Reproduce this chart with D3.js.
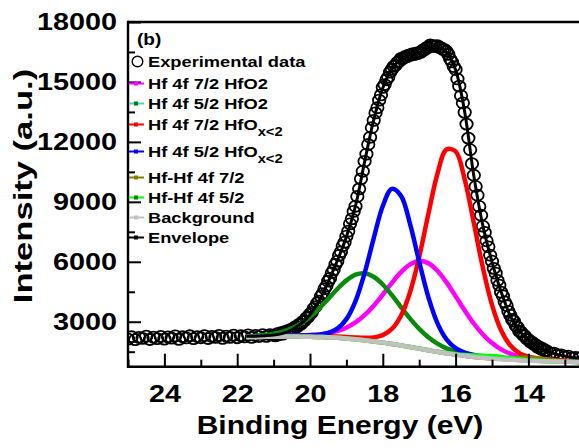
<!DOCTYPE html>
<html>
<head>
<meta charset="utf-8">
<script src="https://cdn.jsdelivr.net/npm/d3@7"></script>
<style>
  html, body { margin: 0; padding: 0; background: #fff; }
  svg { display: block; }
  text { font-family: "Liberation Sans", Arial, sans-serif; font-weight: bold; fill: #000; }
</style>
</head>
<body>
<div id="chart"></div>
<script>
// ======= DATA =======

// experimental points, in three evenly spaced runs (binding energy in eV, going down)
const expLeftStart = 25.0, expLeftStep = 0.1;
const expLeft = [
  2130, 2250, 2100, 2220, 2170, 2280, 2110, 2230, 2150, 2270,
  2130, 2240, 2180, 2290, 2120, 2250, 2190, 2300, 2150, 2260,
  2200, 2310, 2160, 2270, 2220, 2320, 2170, 2280, 2220, 2330,
  2200, 2300, 2240, 2340, 2220, 2320, 2260, 2360, 2270, 2350
];
const expPeakStart = 21.0, expPeakStep = 0.05;
const expPeak = [
  2330, 2290, 2400, 2350, 2450, 2380, 2500, 2450, 2570, 2530,
  2640, 2620, 2760, 2750, 2870, 2880, 3010, 3050, 3200, 3240,
  3380, 3470, 3660, 3750, 3940, 4030, 4270, 4410, 4650, 4790,
  5030, 5180, 5450, 5600, 5870, 6030, 6320, 6500, 6800, 6980,
  7280, 7530, 7900, 8150, 8520, 8780, 9270, 9650, 10150, 10530,
  11030, 11390, 11870, 12230, 12710, 13080, 13450, 13710, 14090, 14350,
  14730, 14870, 15110, 15240, 15490, 15630, 15780, 15830, 15980, 16030,
  16180, 16170, 16260, 16250, 16340, 16330, 16400, 16370, 16440, 16410,
  16480, 16490, 16600, 16610, 16720, 16730, 16850, 16800, 16820, 16770,
  16820, 16730, 16720, 16630, 16620, 16530, 16380, 16150, 16000, 15770,
  15620, 15150, 14790, 14310, 13950, 13480, 12890, 12190, 11610, 10910,
  10330, 9770, 9330, 8770, 8330, 7780, 7470, 7050, 6750, 6330,
  6030, 5670, 5430, 5070, 4830, 4480, 4290, 3990, 3810, 3520,
  3330, 3120, 3030, 2820, 2730, 2530, 2480, 2340, 2300, 2150,
  2110, 1990, 1980, 1860, 1850, 1730, 1740, 1630, 1650, 1540,
  1550
];
const expRightStart = 13.4, expRightStep = 0.1;
const expRight = [1440, 1430, 1340, 1340, 1250, 1280, 1200, 1220, 1170];

// fitted curves share one grid: 21.75 eV down to 12.5 eV, 0.25 eV apart
const fitStart = 21.75, fitStep = 0.25;
const background = [
  2235, 2240, 2245, 2250, 2255, 2260, 2255, 2250, 2235, 2220,
  2195, 2160, 2120, 2070, 2015, 1955, 1890, 1815, 1735, 1655,
  1575, 1495, 1420, 1355, 1295, 1240, 1195, 1155, 1120, 1095,
  1070, 1050, 1035, 1020, 1008, 998, 990, 983
];
// components: counts above the background
const hfo2_72 = [
  25, 27, 30, 34, 40, 49, 63, 88, 133, 210,
  339, 543, 845, 1258, 1787, 2403, 3056, 3666, 4138, 4387,
  4358, 4059, 3551, 2926, 2275, 1672, 1166, 775, 496, 308,
  191, 122, 82, 60, 46, 38, 33, 29
];
const hfo2_52 = [
  44, 61, 93, 151, 249, 409, 651, 988, 1420, 1922,
  2442, 2909, 3236, 3355, 3236, 2909, 2442, 1922, 1420, 988,
  651, 409, 249, 151, 93, 61, 44, 35, 28, 24,
  21, 19, 17, 15, 14, 12, 11, 10
];
const hfox_72 = [
  20, 22, 25, 27, 30, 34, 38, 42, 48, 55,
  64, 76, 93, 128, 202, 373, 749, 1488, 2754, 4590,
  6804, 8899, 10198, 10169, 8827, 6712, 4507, 2692, 1451, 729,
  363, 197, 126, 93, 75, 64, 55, 48
];
const hfox_52 = [
  25, 28, 32, 37, 43, 51, 62, 80, 120, 219,
  457, 971, 1915, 3365, 5159, 6837, 7759, 7485, 6153, 4350,
  2668, 1438, 701, 328, 166, 98, 66, 56, 47, 40,
  35, 30, 26, 23, 21, 19, 17, 15
];
const hfhf_72 = [
  0, 0, 0, 0, 0, 0, 0, 0, 0, 0,
  0, 0, 0, 0, 0, 0, 0, 0, 0, 0,
  0, 0, 0, 0, 0, 0, 2, 10, 31, 71,
  120, 149, 136, 91, 45, 16, 4, 1
];
const hfhf_52 = [
  0, 0, 0, 0, 0, 0, 0, 0, 0, 0,
  0, 0, 0, 0, 0, 0, 0, 0, 0, 0,
  0, 0, 4, 14, 36, 71, 109, 129, 120, 87,
  49, 21, 7, 2, 0, 0, 0, 0
];
// envelope: total fitted intensity
const envelope = [
  2270, 2280, 2300, 2330, 2420, 2600, 2900, 3350, 4050, 5000,
  6050, 7250, 8800, 11000, 13100, 14700, 15650, 16150, 16350, 16450,
  16700, 16750, 16500, 15600, 13500, 10300, 7800, 6000, 4500, 3300,
  2550, 2080, 1750, 1520, 1380, 1280, 1210, 1160
];

const yTicks = [3000, 6000, 9000, 12000, 15000, 18000];
const yMinorTicks = [1500, 4500, 7500, 10500, 13500, 16500];
const xTicks = [24, 22, 20, 18, 16, 14];
const xMinorTicks = [25, 23, 21, 19, 17, 15, 13];

const legendNames = [
  ["Experimental data", ""],
  ["Hf 4f 7/2 HfO2", ""],
  ["Hf 4f 5/2 HfO2", ""],
  ["Hf 4f 7/2 HfO", "x<2"],
  ["Hf 4f 5/2 HfO", "x<2"],
  ["Hf-Hf 4f 7/2", ""],
  ["Hf-Hf 4f 5/2", ""],
  ["Background", ""],
  ["Envelope", ""]
];

// ======= STYLE / LAYOUT =======

const width = 579, height = 448;
const plotLeft = 128, plotTop = 22, plotBottom = 366.7, plotRight = 579;

// line colour and marker colour for each legend row (row 0 is the open circle)
const legendLine = [null, "#ff00ff", "#3fd6c8", "#ff0000", "#0000ff", "#808000", "#00ff00", "#c0c0c0", "#000000"];
const legendMark = [null, "#ff00ff", "#008000", "#ff0000", "#0000ff", "#808000", "#008000", "#c0c0c0", "#000000"];
const legendRowY = [67, 89, 109, 130, 157, 183, 203, 223, 243];

const x = d3.scaleLinear().domain([25, 12.61]).range([plotLeft, plotRight]);
const y = d3.scaleLinear().domain([750, 18000]).range([plotBottom, plotTop]);

const svg = d3.select("#chart")
  .append("svg")
  .attr("width", width)
  .attr("height", height);

svg.append("defs").append("clipPath")
  .attr("id", "plot-clip")
  .append("rect")
  .attr("x", plotLeft).attr("y", plotTop)
  .attr("width", plotRight - plotLeft).attr("height", plotBottom - plotTop);

const plot = svg.append("g").attr("clip-path", "url(#plot-clip)");

const grid = (start, step, n) => d3.range(n).map(i => +(start - i * step).toFixed(2));

// ------- experimental points -------
const expPoints = [].concat(
  grid(expLeftStart, expLeftStep, expLeft.length).map((e, i) => [e, expLeft[i]]),
  grid(expPeakStart, expPeakStep, expPeak.length).map((e, i) => [e, expPeak[i]]),
  grid(expRightStart, expRightStep, expRight.length).map((e, i) => [e, expRight[i]])
);

plot.append("g")
  .selectAll("ellipse")
  .data(expPoints)
  .join("ellipse")
  .attr("cx", d => x(d[0]))
  .attr("cy", d => y(d[1]))
  .attr("rx", 6.2)
  .attr("ry", 5.5)
  .attr("fill", "none")
  .attr("stroke", "#000")
  .attr("stroke-width", 1.8);

// ------- fitted curves -------
const fitE = grid(fitStart, fitStep, background.length);
const line = d3.line()
  .x(d => x(d[0]))
  .y(d => y(d[1]))
  .curve(d3.curveCatmullRom);

const components = [
  { values: hfo2_72, color: "#ff00ff" },
  { values: hfo2_52, color: "#0a8a0a" },
  { values: hfox_72, color: "#ff0000" },
  { values: hfox_52, color: "#0000ff" },
  { values: hfhf_72, color: "#808000" },
  { values: hfhf_52, color: "#00ff00" }
];

components.forEach(c => {
  plot.append("path")
    .datum(fitE.map((e, i) => [e, background[i] + c.values[i]]))
    .attr("d", line)
    .attr("fill", "none")
    .attr("stroke", c.color)
    .attr("stroke-width", 4.5)
    .attr("stroke-linejoin", "round");
});

plot.append("path")
  .datum(fitE.map((e, i) => [e, background[i]]))
  .attr("d", line)
  .attr("fill", "none")
  .attr("stroke", "#c0c0c0")
  .attr("stroke-width", 4.5);

plot.append("path")
  .datum(fitE.map((e, i) => [e, envelope[i]]))
  .attr("d", line)
  .attr("fill", "none")
  .attr("stroke", "#000")
  .attr("stroke-width", 3);

// ------- axes -------
function stretch(sel, sx) {
  sel.each(function () {
    const t = d3.select(this);
    const tx = +t.attr("x") || 0;
    t.attr("x", tx / sx).attr("transform", `scale(${sx},1)`);
  });
}

function styleAxis(g) {
  g.select(".domain").remove();
  g.selectAll("line").attr("stroke", "#000").attr("stroke-width", 2);
  g.attr("font-size", null).attr("font-family", null);
}

const yMinor = svg.append("g")
  .attr("transform", `translate(${plotLeft},0)`)
  .call(d3.axisLeft(y).tickValues(yMinorTicks).tickSize(-7).tickFormat(""));
styleAxis(yMinor);

const yAxis = svg.append("g")
  .attr("transform", `translate(${plotLeft},0)`)
  .call(d3.axisLeft(y).tickValues(yTicks).tickSize(-13).tickPadding(11).tickFormat(d3.format("d")));
styleAxis(yAxis);
yAxis.selectAll("text").style("font-size", "24px");
stretch(yAxis.selectAll("text"), 1.2);

const xMinor = svg.append("g")
  .attr("transform", `translate(0,${plotBottom})`)
  .call(d3.axisBottom(x).tickValues(xMinorTicks).tickSize(-7).tickFormat(""));
styleAxis(xMinor);

const xAxis = svg.append("g")
  .attr("transform", `translate(0,${plotBottom})`)
  .call(d3.axisBottom(x).tickValues(xTicks).tickSize(-13).tickPadding(18).tickFormat(d3.format("d")));
styleAxis(xAxis);
xAxis.selectAll("text").style("font-size", "24px");
stretch(xAxis.selectAll("text"), 1.2);

// frame: left, bottom, top
const frame = svg.append("g").attr("stroke", "#000").attr("stroke-width", 2.4);
frame.append("line").attr("x1", plotLeft).attr("x2", plotLeft).attr("y1", plotTop - 1.2).attr("y2", plotBottom + 1.2);
frame.append("line").attr("x1", plotLeft).attr("x2", plotRight).attr("y1", plotBottom).attr("y2", plotBottom);
frame.append("line").attr("x1", plotLeft).attr("x2", plotRight).attr("y1", plotTop).attr("y2", plotTop);

// ------- titles -------
svg.append("text")
  .attr("transform", "translate(340,434) scale(1.2,1)")
  .attr("text-anchor", "middle")
  .style("font-size", "25px")
  .text("Binding Energy (eV)");

svg.append("text")
  .attr("transform", "translate(32,186) rotate(-90) scale(1.33,1)")
  .attr("text-anchor", "middle")
  .style("font-size", "26px")
  .text("Intensity (a.u.)");

svg.append("text")
  .attr("transform", "translate(137,45) scale(1.12,1)")
  .style("font-size", "17px")
  .text("(b)");

// ------- legend -------
const legend = svg.append("g");
legendNames.forEach((row, i) => {
  const by = legendRowY[i];
  const cy = by - 5.5;
  if (i === 0) {
    legend.append("circle")
      .attr("cx", 137.5).attr("cy", cy).attr("r", 5.3)
      .attr("fill", "none").attr("stroke", "#000").attr("stroke-width", 1.4);
  } else {
    legend.append("line")
      .attr("x1", 129).attr("x2", 144).attr("y1", cy).attr("y2", cy)
      .attr("stroke", legendLine[i]).attr("stroke-width", 2);
    legend.append("rect")
      .attr("x", 134).attr("y", cy - 2).attr("width", 4).attr("height", 4)
      .attr("fill", legendMark[i]);
  }
  const t = legend.append("text")
    .attr("transform", `translate(148,${by}) scale(1.18,1)`)
    .style("font-size", "15.5px")
    .text(row[0]);
  if (row[1]) {
    t.append("tspan")
      .attr("dy", 6)
      .style("font-size", "12.5px")
      .text(row[1]);
  }
});
</script>
</body>
</html>
